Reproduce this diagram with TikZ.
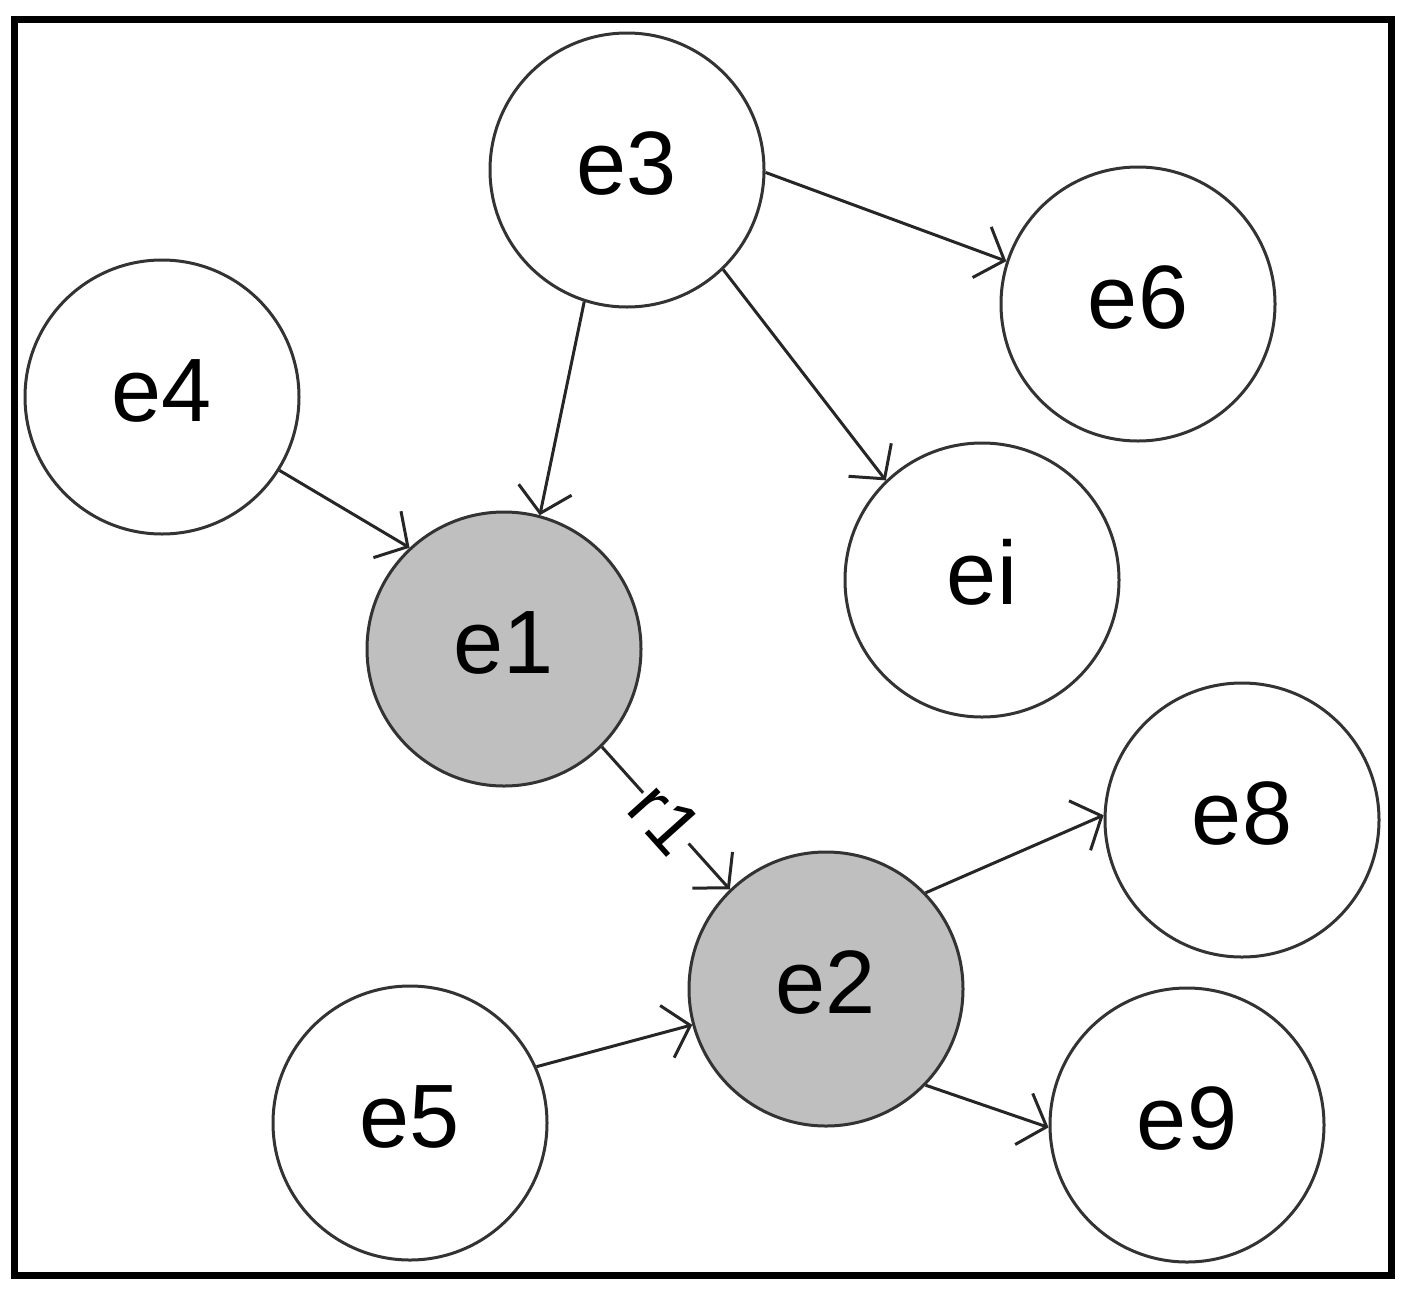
\documentclass[tikz,border=0pt]{standalone}
\usepackage{fontspec}
\setmainfont{Liberation Sans}
\usetikzlibrary{arrows.meta}
\begin{document}
\begin{tikzpicture}[x=1pt,y=-1pt,
  ent/.style={circle, draw=black!80, line width=3pt, minimum size=274pt, inner sep=0pt, fill=white,
    font=\fontsize{90}{100}\selectfont, text height=64pt, text depth=16pt},
  keyent/.style={ent, fill=black!25},
  edge/.style={line width=3pt, draw=black!85, -{Straight Barb[length=24pt,width=54pt]}},
  rlabel/.style={sloped, fill=white, inner sep=1pt, font=\fontsize{74}{80}\selectfont}
]
\useasboundingbox (0,0) rectangle (1413,1296);
\draw[line width=7pt] (14,19.5) rectangle (1391.5,1275);

\node[ent] (e3) at (627,170) {e3};
\node[ent] (e6) at (1138,304) {e6};
\node[ent] (e4) at (162,397) {e4};
\node[ent] (ei) at (982,580) {ei};
\node[keyent] (e1) at (504,649) {e1};
\node[ent] (e8) at (1242,820) {e8};
\node[keyent] (e2) at (826,989) {e2};
\node[ent] (e5) at (410,1123) {e5};
\node[ent] (e9) at (1187,1125) {e9};

\draw[edge] (e3.-108) -- (e1.75);
\draw[edge] (e4.-32) -- (e1.133);
\draw[edge] (e3.-1) -- (e6.162);
\draw[edge] (e3.-46) -- (ei.134);
\draw[edge] (e1.-45) -- node[rlabel] (r1) {r1} (e2.134);
\draw[edge] (e2.44) -- (e8.178);
\draw[edge] (e5.24) -- (e2.-165);
\draw[edge] (e2.-44) -- (e9.-179);
\end{tikzpicture}
\end{document}
